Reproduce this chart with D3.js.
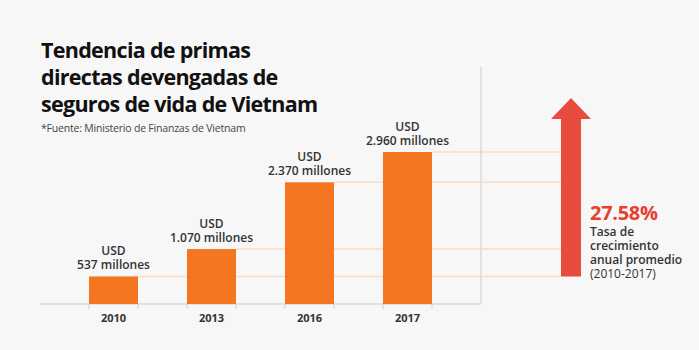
<!DOCTYPE html>
<html>
<head>
<meta charset="utf-8">
<script src="https://cdn.jsdelivr.net/npm/d3@7"></script>
<style>
  html, body { margin: 0; padding: 0; background: #f7f7f7; }
  svg { display: block; font-family: "Open Sans", "Noto Sans", sans-serif; }
</style>
</head>
<body>
<svg id="chart" width="699" height="350"></svg>
<script>
const years = ["2010", "2013", "2016", "2017"];
const values = [537, 1070, 2370, 2960];
const valueLabels = ["537 millones", "1.070 millones", "2.370 millones", "2.960 millones"];
const titleLines = ["Tendencia de primas", "directas devengadas de", "seguros de vida de Vietnam"];
const sourceText = "*Fuente: Ministerio de Finanzas de Vietnam";
const growthRate = "27.58%";
const growthLines = ["Tasa de", "crecimiento", "anual promedio"];
const growthPeriod = "(2010-2017)";

const svg = d3.select("#chart");
svg.append("rect").attr("width", 699).attr("height", 350).attr("fill", "#f7f7f7");

const x = d3.scaleBand().domain(years).range([40, 481]).paddingInner(0.5).paddingOuter(0.5);
const y = d3.scaleLinear().domain([0, d3.max(values)]).range([304, 152]);

// title
svg.append("g").selectAll("text").data(titleLines).join("text")
  .attr("x", 41).attr("y", (d, i) => 58 + i * 27)
  .attr("font-size", 21.5).attr("font-weight", 700).attr("fill", "#111")
  .attr("letter-spacing", -0.7).text(d => d);
svg.append("text").attr("x", 41).attr("y", 132).attr("font-size", 10.5)
  .attr("fill", "#444").attr("letter-spacing", -0.2).text(sourceText);

// pale guide lines from bar tops to arrow
const arrowL = 561, arrowR = 581;
svg.append("g").selectAll("line").data(years).join("line")
  .attr("x1", d => x(d) + x.bandwidth())
  .attr("x2", arrowL)
  .attr("y1", (d, i) => y(values[i]))
  .attr("y2", (d, i) => y(values[i]))
  .attr("stroke", "#f8dcc6").attr("stroke-width", 1.5);

// frame lines
svg.append("line").attr("x1", 40).attr("x2", 481).attr("y1", y(0)).attr("y2", y(0))
  .attr("stroke", "#dadada").attr("stroke-width", 1.5);
svg.append("line").attr("x1", 481).attr("x2", 481).attr("y1", 67).attr("y2", y(0))
  .attr("stroke", "#dadada").attr("stroke-width", 1.5);

// bars
svg.append("g").selectAll("rect").data(years).join("rect")
  .attr("x", d => x(d))
  .attr("width", x.bandwidth())
  .attr("y", (d, i) => y(values[i]))
  .attr("height", (d, i) => y(0) - y(values[i]))
  .attr("fill", "#f47621");

// edge ticks
const ticks = svg.append("g");
years.forEach(d => {
  [x(d), x(d) + x.bandwidth()].forEach(px => {
    ticks.append("line").attr("x1", px).attr("x2", px).attr("y1", y(0)).attr("y2", y(0) + 5)
      .attr("stroke", "#d0d0d0").attr("stroke-width", 1);
  });
});

// x axis labels
const xAxis = svg.append("g").attr("transform", `translate(0,${y(0)})`)
  .call(d3.axisBottom(x).tickSize(0).tickPadding(10));
xAxis.select(".domain").remove();
xAxis.selectAll("text").attr("font-size", 11).attr("font-weight", 700)
  .attr("fill", "#333").attr("font-family", "\"Open Sans\", sans-serif");

// value labels
const lblG = svg.append("g").attr("text-anchor", "middle").attr("font-size", 12)
  .attr("font-weight", 600).attr("fill", "#333");
lblG.selectAll("text.usd").data(years).join("text").attr("class", "usd")
  .attr("x", d => x(d) + x.bandwidth() / 2)
  .attr("y", (d, i) => y(values[i]) - 21).text("USD");
lblG.selectAll("text.val").data(years).join("text").attr("class", "val")
  .attr("x", d => x(d) + x.bandwidth() / 2)
  .attr("y", (d, i) => y(values[i]) - 7).text((d, i) => valueLabels[i]);

// arrow
const tipY = 98, headBaseY = 119, bottomY = y(values[0]);
const arrowPts = [[arrowL, bottomY], [arrowL, headBaseY], [551, headBaseY], [(arrowL + arrowR) / 2, tipY],
  [591, headBaseY], [arrowR, headBaseY], [arrowR, bottomY]];
svg.append("path").attr("d", d3.line()(arrowPts) + "Z").attr("fill", "#e84c3d");

// growth text
svg.append("text").attr("x", 590).attr("y", 220).attr("font-size", 20).attr("font-weight", 700)
  .attr("fill", "#e8402f").attr("letter-spacing", -0.3).text(growthRate);
svg.append("g").selectAll("text").data(growthLines).join("text")
  .attr("x", 590).attr("y", (d, i) => 236 + i * 14)
  .attr("font-size", 12).attr("font-weight", 600).attr("fill", "#333").text(d => d);
svg.append("text").attr("x", 590).attr("y", 278).attr("font-size", 12).attr("fill", "#333").text(growthPeriod);
</script>
</body>
</html>
